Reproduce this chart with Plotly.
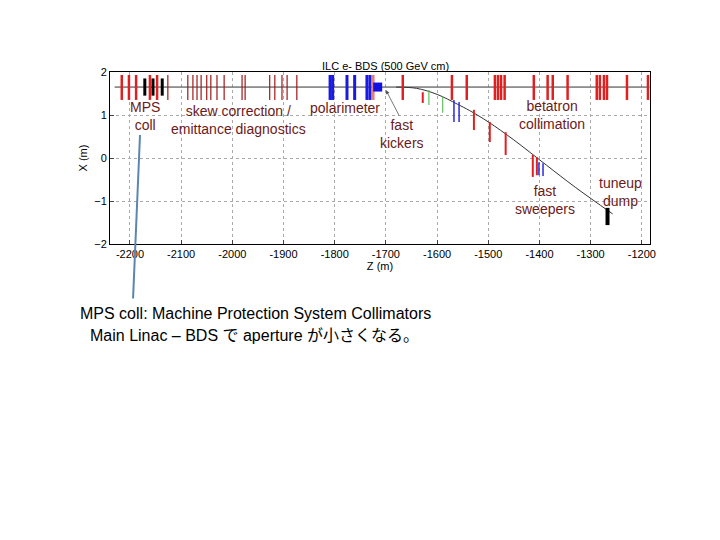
import plotly.graph_objects as go

# element positions along the beamline, z in m
red_z = [-2216, -2202, -2188, -2161, -2147, -1667, -1571, -1542, -1487, -1481, -1475, -1468,
         -1411, -1384, -1374, -1345, -1288, -1282, -1274, -1268, -1229, -1188]
black_z = [-2171, -2155, -2137]
thin_z = [-2126, -2087, -2077, -2069, -2061, -2050, -2042, -2030, -2016, -1981, -1975,
          -1927, -1917, -1903, -1893, -1874]
blue_z = [-1809, -1804, -1776, -1761, -1737, -1731]
pink_z = [-1725]
# off-axis elements: z, x top, x bottom
off_red = [(-1628, 1.53, 1.28), (-1528, 1.12, 0.65), (-1497, 0.84, 0.37), (-1466, 0.6, 0.07),
           (-1413, 0.07, -0.44), (-1405, 0.02, -0.4)]
off_green = [(-1616, 1.58, 1.23), (-1589, 1.42, 1.05)]
off_blue = [(-1567, 1.35, 0.84), (-1557, 1.3, 0.84), (-1401, -0.1, -0.4), (-1393, -0.12, -0.42)]
dump = [(-1267, -1.16, -1.56)]
# extraction line
curve_z = [-1680, -1640, -1600, -1560, -1536, -1500, -1450, -1386, -1330, -1257]
curve_x = [1.65, 1.62, 1.48, 1.25, 1.1, 0.84, 0.42, -0.17, -0.68, -1.3]
line_x = 1.65

fig = go.Figure()


def segs(items):
    xs, ys = [], []
    for z, a, b in items:
        xs += [z, z, None]
        ys += [a, b, None]
    return xs, ys


def add(items, color, width):
    xs, ys = segs(items)
    fig.add_trace(go.Scatter(x=xs, y=ys, mode="lines", line=dict(color=color, width=width),
                             hoverinfo="skip", showlegend=False))


fig.add_trace(go.Scatter(x=[-2230, -1185], y=[line_x, line_x], mode="lines",
                         line=dict(color="#333", width=1), showlegend=False))
fig.add_trace(go.Scatter(x=curve_z, y=curve_x, mode="lines", line=dict(color="#333", width=1),
                         line_shape="spline", showlegend=False))
add([(z, 1.93, 1.35) for z in thin_z], "#a01818", 1.2)
add([(z, 1.93, 1.35) for z in red_z], "#e02020", 2.5)
add([(z, 1.85, 1.45) for z in black_z], "black", 3)
add([(z, 1.93, 1.35) for z in blue_z], "#1a1ae0", 3)
add([(z, 1.93, 1.35) for z in pink_z], "#e08080", 3)
add(off_red, "#e02020", 2)
add(off_green, "#60c060", 1.2)
add(off_blue, "#2a2ae0", 1.5)
add(dump, "black", 4)
fig.add_trace(go.Scatter(x=[-1716], y=[1.65], mode="markers",
                         marker=dict(symbol="square", size=9, color="#1010e0"), showlegend=False))


def px(x, y):
    return -2200 + (x - 130) / 0.512, (158 - y) / 43


def dom(x, y):
    return (x - 110) / 540, (244 - y) / 172


dr = "#6b1a1a"
labels = [("MPS<br>coll", 145, 116), ("skew correction /<br>emittance diagnostics", 239, 120),
          ("polarimeter", 345, 108), ("fast<br>kickers", 402, 134),
          ("betatron<br>collimation", 552, 115), ("fast<br>sweepers", 545, 200),
          ("tuneup<br>dump", 621, 192)]
for t, x, y in labels:
    zx, xx = px(x, y)
    fig.add_annotation(x=zx, y=xx, text=t, showarrow=False, font=dict(size=14, color=dr))

kz, kx = px(386, 90)
tz, tx = px(400, 117)
fig.add_annotation(x=kz, y=kx, ax=tz, ay=tx, axref="x", ayref="y", text="",
                   showarrow=True, arrowhead=2, arrowsize=1, arrowwidth=0.8, arrowcolor="#555")
hx, hy = dom(140, 135)
fig.add_annotation(x=hx, y=hy, xref="x domain", yref="y domain", ax=-7, ay=165,
                   axref="pixel", ayref="pixel", text="", showarrow=True, arrowhead=0,
                   arrowwidth=2, arrowcolor="#5b86b0")

for t, x, y, size, anchor in [("ILC e- BDS (500 GeV cm)", 385, 58, 11, "center"),
                              ("MPS coll: Machine Protection System Collimators", 78, 324, 16, "left"),
                              ("Main Linac – BDS で aperture が小さくなる。", 88, 346, 16, "left")]:
    ax_, ay_ = dom(x, y)
    fig.add_annotation(x=ax_, y=ay_, xref="paper", yref="paper", xanchor=anchor, text=t,
                       showarrow=False, font=dict(size=size, color="black"))

ticks = list(range(-2200, -1199, 100))
fig.update_xaxes(range=[-2239, -1184], tickvals=ticks, ticktext=[str(t) for t in ticks],
                 showgrid=True, gridcolor="#aaa", griddash="dot", zeroline=False, showline=True,
                 linecolor="black", mirror=True, ticks="inside", ticklen=4,
                 title=dict(text="Z (m)", font=dict(size=11), standoff=2), tickfont=dict(size=11))
fig.update_yaxes(range=[-2, 2], tickvals=[-2, -1, 0, 1, 2], showgrid=True, gridcolor="#aaa",
                 griddash="dot", zeroline=False, showline=True, linecolor="black", mirror=True,
                 ticks="inside", ticklen=4, title=dict(text="X (m)", font=dict(size=11), standoff=4),
                 tickfont=dict(size=11))
fig.update_layout(width=720, height=540, margin=dict(l=102, r=78, t=64, b=304),
                  plot_bgcolor="white", paper_bgcolor="white",
                  font=dict(family="Arial, Liberation Sans, Noto Sans CJK JP", color="black"))
fig.write_html("out.html")
